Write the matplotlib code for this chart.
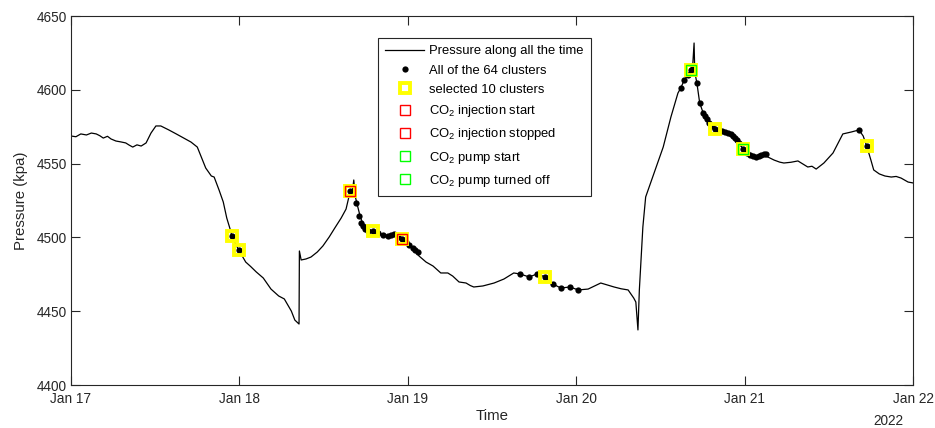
import matplotlib
matplotlib.use("Agg")
import matplotlib.pyplot as plt
import matplotlib.dates as mdates
from datetime import datetime, timedelta

plt.rcParams['font.family'] = ['Liberation Sans', 'DejaVu Sans']
plt.rcParams['mathtext.default'] = 'regular'

# ---- data (hours since 2022-01-17 00:00, pressure in kPa) ----
curve_hours = [0, 0.7, 1.4, 2.2, 2.9, 3.6, 4.1, 4.6, 5.2, 5.7, 6.4, 7.1, 7.8, 8.3, 8.8, 9.4,
               10.0, 10.7, 11.4, 12.1, 12.8, 13.9, 15.0, 16.1, 17.1, 18.0, 18.5, 19.2, 20.0,
               20.4, 21.1, 21.7, 22.2, 22.8, 22.9, 23.9, 24.9, 25.6, 26.4, 27.4, 28.5, 29.6,
               30.4, 31.4, 31.9, 32.5, 32.55, 32.8, 33.5, 34.2, 35.1, 35.9, 36.8, 37.6, 38.5,
               39.2, 39.8, 40.1, 40.3, 40.5, 40.8, 41.2, 41.6, 42.2, 43.0, 44.2, 45.3, 46.3,
               47.2, 48.0, 48.9, 49.6, 50.6, 51.6, 52.7, 53.7, 54.4, 55.3, 56.3, 56.9, 57.4,
               58.7, 60.3, 61.7, 63.1, 64.0, 65.3, 66.4, 67.6, 68.7, 69.8, 71.1, 72.3, 73.7,
               75.5, 76.4, 77.4, 78.4, 79.4, 80.2, 80.5, 80.8, 81.0, 81.5, 81.9, 83.1, 84.4,
               85.5, 86.5, 86.9, 87.4, 87.9, 88.4, 88.6, 88.8, 88.9, 89.2, 89.6, 90.1, 90.5,
               90.8, 91.8, 92.6, 93.6, 94.5, 95.1, 95.8, 96.6, 97.6, 98.6, 99.3, 100.2, 101.0,
               101.6, 102.6, 103.6, 105.0, 105.6, 106.2, 107.3, 108.6, 110.0, 111.2, 112.3,
               112.9, 113.4, 114.0, 114.4, 115.2, 116.0, 116.9, 117.6, 118.3, 119.3, 120.0]
curve_kpa = [4568.7, 4568.2, 4570.1, 4569.4, 4570.7, 4570.1, 4568.9, 4567.3, 4568.5, 4566.7,
             4565.3, 4564.7, 4564.0, 4562.5, 4561.2, 4562.7, 4561.9, 4564.0, 4570.7, 4575.5,
             4575.5, 4572.9, 4570.1, 4567.2, 4564.6, 4561.2, 4555.2, 4547.0, 4541.6, 4540.9,
             4532.1, 4524.0, 4513.1, 4503.7, 4500.9, 4491.5, 4483.3, 4480.3, 4476.6, 4472.5,
             4465.0, 4460.3, 4458.3, 4450.1, 4444.0, 4441.3, 4490.8, 4484.7, 4485.4, 4486.7,
             4490.1, 4494.2, 4500.3, 4506.4, 4513.1, 4519.2, 4531.4, 4530.8, 4538.9, 4528.0,
             4522.0, 4514.5, 4509.1, 4505.7, 4504.3, 4502.3, 4501.0, 4501.6, 4499.0, 4495.6,
             4491.5, 4487.4, 4483.3, 4480.6, 4475.9, 4475.9, 4473.8, 4469.8, 4469.1, 4467.4,
             4466.4, 4467.1, 4469.1, 4471.8, 4475.9, 4475.2, 4473.2, 4475.2, 4473.2, 4468.4,
             4465.7, 4466.4, 4464.4, 4465.0, 4469.1, 4467.8, 4466.4, 4465.2, 4464.4, 4458.9,
             4456.2, 4437.3, 4464.4, 4507.0, 4527.4, 4543.6, 4561.2, 4581.6, 4597.8, 4601.2,
             4606.6, 4610.0, 4613.4, 4616.1, 4631.7, 4612.0, 4604.6, 4591.1, 4584.3, 4580.9,
             4577.5, 4573.4, 4571.4, 4570.1, 4567.3, 4564.6, 4559.9, 4555.2, 4553.8, 4555.8,
             4554.5, 4552.4, 4551.0, 4550.4, 4550.9, 4551.8, 4547.7, 4548.2, 4546.3, 4550.4,
             4557.2, 4570.1, 4571.4, 4572.8, 4568.7, 4561.9, 4552.4, 4545.7, 4543.0, 4541.6,
             4540.9, 4541.3, 4540.2, 4537.5, 4536.9]

cluster_hours = [22.9, 23.9, 39.8, 43.0, 47.2, 67.6, 88.4, 91.8, 95.8, 113.4,
                 40.6, 41.0, 41.3, 41.6, 41.9, 42.3, 43.8, 44.5, 45.2, 45.6, 46.0, 46.6,
                 47.7, 48.2, 48.7, 49.0, 49.5,
                 64.0, 65.3, 66.4, 68.7, 69.8, 71.1, 72.3,
                 86.9, 87.4, 87.9, 88.6, 89.2, 89.6, 90.1, 90.4, 90.6, 90.9, 91.4, 92.4,
                 92.8, 93.2, 93.6, 94.1, 94.3, 94.6, 94.9, 95.2, 96.3, 96.8, 97.2, 97.6,
                 98.0, 98.3, 98.8, 99.1, 112.3]
cluster_kpa = [4500.9, 4491.5, 4531.4, 4504.3, 4499.0, 4473.2, 4613.4, 4573.4, 4559.9, 4561.9,
               4523.3, 4514.5, 4509.8, 4507.7, 4505.7, 4504.3, 4503.0, 4501.6, 4501.0, 4501.6,
               4502.3, 4500.3, 4496.9, 4494.8, 4492.8, 4491.5, 4490.1,
               4475.2, 4473.2, 4475.2, 4468.4, 4465.7, 4466.4, 4464.4,
               4601.2, 4606.6, 4610.0, 4616.1, 4604.6, 4591.1, 4584.3, 4582.2, 4580.2, 4577.5,
               4575.5, 4572.8, 4572.1, 4571.4, 4570.7, 4570.1, 4568.7, 4567.3, 4566.0, 4564.0,
               4557.2, 4555.8, 4555.2, 4554.5, 4555.2, 4555.8, 4556.5, 4556.5, 4572.8]

selected_hours = [22.9, 23.9, 39.8, 43.0, 47.2, 67.6, 88.4, 91.8, 95.8, 113.4]
selected_kpa = [4500.9, 4491.5, 4531.4, 4504.3, 4499.0, 4473.2, 4613.4, 4573.4, 4559.9, 4561.9]

inj_start_hours, inj_start_kpa = [39.8], [4531.4]
inj_stop_hours, inj_stop_kpa = [47.2], [4499.0]
pump_start_hours, pump_start_kpa = [88.4], [4613.4]
pump_off_hours, pump_off_kpa = [95.8], [4559.9]

labels = ['Pressure along all the time', 'All of the 64 clusters', 'selected 10 clusters',
          'CO$_2$ injection start', 'CO$_2$ injection stopped',
          'CO$_2$ pump start', 'CO$_2$ pump turned off']

t0 = datetime(2022, 1, 17)
def to_dt(hours):
    return [t0 + timedelta(hours=h) for h in hours]

TXT = '#262626'
fig = plt.figure(figsize=(9.35, 4.28), dpi=100)
ax = fig.add_axes([71 / 935, 43 / 428, 842 / 935, 369 / 428])

ax.plot(to_dt(curve_hours), curve_kpa, color='black', lw=0.9, label=labels[0])
ax.plot(to_dt(cluster_hours), cluster_kpa, 'o', color='black', ms=4.5, mew=0, label=labels[1])
ax.plot(to_dt(selected_hours), selected_kpa, 's', mfc='none', mec=(1, 1, 0), ms=7, mew=2.8,
        label=labels[2])
ax.plot(to_dt(inj_start_hours), inj_start_kpa, 's', mfc='none', mec=(1, 0, 0), ms=6.5, mew=1,
        label=labels[3])
ax.plot(to_dt(inj_stop_hours), inj_stop_kpa, 's', mfc='none', mec=(1, 0, 0), ms=6.5, mew=1,
        label=labels[4])
ax.plot(to_dt(pump_start_hours), pump_start_kpa, 's', mfc='none', mec=(0, 1, 0), ms=6.5, mew=1,
        label=labels[5])
ax.plot(to_dt(pump_off_hours), pump_off_kpa, 's', mfc='none', mec=(0, 1, 0), ms=6.5, mew=1,
        label=labels[6])

ax.set_xlim(t0, t0 + timedelta(days=5))
ax.set_ylim(4400, 4650)
ax.set_yticks([4400, 4450, 4500, 4550, 4600, 4650])
ax.xaxis.set_major_locator(mdates.DayLocator())
ax.xaxis.set_major_formatter(mdates.DateFormatter('%b %d'))
ax.tick_params(direction='in', length=6.5, width=0.8, top=True, right=True,
               labelsize=9.8, colors=TXT, pad=3)
ax.tick_params(axis='x', pad=5)
for s in ax.spines.values():
    s.set_linewidth(0.8)
    s.set_color(TXT)

ax.set_ylabel('Pressure (kpa)', fontsize=10.8, color=TXT, labelpad=6)
ax.set_xlabel('Time', fontsize=10.8, color=TXT, labelpad=2)
ax.text(0.989, -0.098, '2022', transform=ax.transAxes, ha='right', va='center',
        fontsize=9.8, color=TXT)

leg = ax.legend(loc='upper left', bbox_to_anchor=(307 / 842, 347 / 369), fontsize=9.4,
                frameon=True, fancybox=False, edgecolor=TXT, framealpha=1,
                handlelength=3.0, handletextpad=0.35, borderpad=0.55, labelspacing=0.55,
                borderaxespad=0)
leg.get_frame().set_linewidth(0.8)

fig.savefig('out.png', dpi=100)
